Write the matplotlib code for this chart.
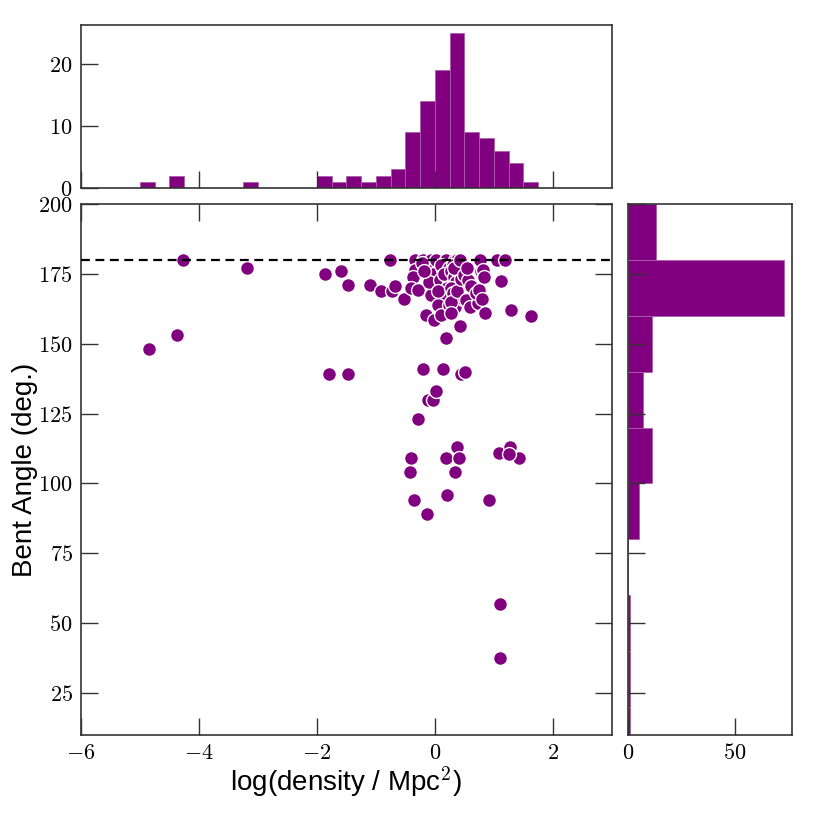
import numpy as np
import matplotlib
matplotlib.use("Agg")
import matplotlib.pyplot as plt
from matplotlib.ticker import FuncFormatter

plt.rcParams['font.family'] = ['Liberation Sans', 'DejaVu Sans']
plt.rcParams['mathtext.fontset'] = 'cm'

purple = '#800080'

# scatter data: log density vs bent angle
log_density = [
    -4.85, -4.38, -4.27, -3.18, -1.86, -1.79, -1.60, -1.48, -1.48, -1.10,
    -0.91, -0.77, -0.72, -0.53, -0.68,
    -0.41, -0.43, -0.35, -0.28, -0.34, -0.34, -0.37, -0.40, -0.29,
    -0.21, -0.12, -0.03, -0.14, -0.20, -0.06, -0.12, -0.03, -0.06, -0.15,
    -0.01, -0.22, -0.10, -0.18,
    0.02, 0.135, 0.19, 0.21, 0.19, 0.02, 0.19, 0.135, 0.08, 0.22,
    0.20, 0.16, 0.05, 0.11, 0.10, 0.23, 0.05, 0.15, 0.24,
    0.38, 0.40, 0.34, 0.44, 0.34, 0.37, 0.44, 0.44, 0.34, 0.43,
    0.30, 0.28, 0.32, 0.47, 0.35, 0.27, 0.30, 0.40, 0.47, 0.28,
    0.38, 0.45, 0.33, 0.42, 0.27,
    0.51, 0.50, 0.56, 0.61, 0.53, 0.60, 0.73, 0.70, 0.55,
    0.75, 0.78, 0.77, 0.85, 0.92, 0.81, 0.83, 0.80,
    1.05, 1.19, 1.12, 1.08, 1.10, 1.10,
    1.27, 1.42, 1.29, 1.25,
    1.63,
]
bent_angle = [
    148, 153, 180, 177, 175, 139, 176, 171, 139, 171,
    169, 180, 169, 166, 170.5,
    109, 104, 94, 123, 180, 176.4, 174, 170, 169.3,
    141, 130, 130, 89, 180, 180, 177, 175, 167.5, 160.4,
    158.5, 179, 172, 176,
    133, 141, 109, 96, 152, 180, 180, 176.4, 172.9, 173.5,
    170.1, 166.9, 163.9, 160.4, 178, 177, 169, 175, 164,
    113, 109, 104, 139, 180, 180, 175.8, 171.1, 163.3, 156.4,
    178, 176, 174, 178, 172, 170, 168, 167, 166, 165,
    169, 173, 177, 180, 161,
    140, 174.6, 172.9, 170.5, 165.7, 163.3, 164.5, 168, 177,
    169.3, 176.1, 180, 161, 94, 176.5, 174, 166,
    180, 180, 172.3, 111, 57, 37.5,
    113, 109, 162, 110.5,
    160,
]

# marginal histograms (counts)
x_edges = np.arange(-5.0, 1.76, 0.25)
x_counts = [1, 0, 2, 0, 0, 0, 0, 1, 0, 0, 0, 0, 2, 1, 2, 1, 2, 3,
            9, 14, 19, 25, 9, 8, 6, 4, 1]
y_edges = np.arange(0, 201, 20)
y_counts = [1, 1, 1, 0, 5, 11, 7, 11, 73, 13]

fig = plt.figure(figsize=(8.17, 8.17), dpi=100)
ax = fig.add_axes([0.0991, 0.1004, 0.6499, 0.6499])
ax_top = fig.add_axes([0.0991, 0.7699, 0.6499, 0.1995], sharex=ax)
ax_right = fig.add_axes([0.7687, 0.1004, 0.2007, 0.6499], sharey=ax)

ax.scatter(log_density, bent_angle, s=100, color=purple,
           edgecolor='white', linewidth=1.0, zorder=3)
ax.axhline(180, color='black', ls='--', lw=1.6, dashes=(4, 2.5), zorder=4)

ax_top.bar(x_edges[:-1], x_counts, width=np.diff(x_edges), align='edge',
           color=purple, edgecolor='#a960a9', linewidth=0.6)
ax_right.barh(y_edges[:-1], y_counts, height=np.diff(y_edges), align='edge',
              color=purple, edgecolor='#a960a9', linewidth=0.6)

ax.set_xlim(-6, 3)
ax.set_ylim(10, 200)
ax.set_xticks([-6, -4, -2, 0, 2])
ax.set_yticks([25, 50, 75, 100, 125, 150, 175, 200])
ax_top.set_ylim(0, max(x_counts) * 1.05)
ax_top.set_yticks([0, 10, 20])
ax_right.set_xlim(0, max(y_counts) * 1.05)
ax_right.set_xticks([0, 50])

mathfmt = FuncFormatter(lambda v, p: r'$%g$' % v)
for a in (ax, ax_top, ax_right):
    for s in a.spines.values():
        s.set_color('#333333')
        s.set_linewidth(1.2)
    a.xaxis.set_major_formatter(mathfmt)
    a.yaxis.set_major_formatter(mathfmt)

ax.tick_params(direction='in', length=12, width=1.0, color='#333333',
               labelsize=16, top=True, right=True, pad=6)
ax_top.tick_params(direction='in', length=12, width=1.0, color='#333333',
                   labelsize=16, labelbottom=False, pad=6)
ax_right.tick_params(direction='in', length=12, width=1.0, color='#333333',
                     labelsize=16, labelleft=False, pad=6)

ax.set_xlabel(r'log(density / Mpc$^{2}$)', fontsize=20, labelpad=0)
ax.set_ylabel('Bent Angle (deg.)', fontsize=20, labelpad=0)

fig.savefig('out.png', dpi=100)
